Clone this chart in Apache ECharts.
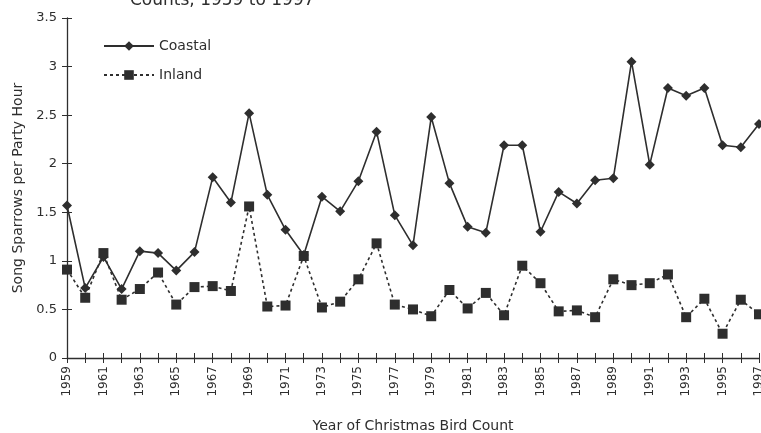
<!DOCTYPE html>
<html>
<head>
<meta charset="utf-8">
<script src="https://cdn.jsdelivr.net/npm/echarts@6/dist/echarts.min.js"></script>
<style>
  html, body { margin: 0; padding: 0; background: #fff; }
  #chart { width: 761px; height: 433px; }
</style>
</head>
<body>
<div id="chart"></div>
<script>
// years of the count
var years = [];
for (var y = 1959; y <= 1997; y++) { years.push(String(y)); }

// song sparrows per party hour
var coastal = [1.57, 0.72, 1.04, 0.71, 1.10, 1.08, 0.90, 1.09, 1.86, 1.60,
               2.52, 1.68, 1.32, 1.06, 1.66, 1.51, 1.82, 2.33, 1.47, 1.16,
               2.48, 1.80, 1.35, 1.29, 2.19, 2.19, 1.30, 1.71, 1.59, 1.83,
               1.85, 3.05, 1.99, 2.78, 2.70, 2.78, 2.19, 2.17, 2.41];
var inland = [0.91, 0.62, 1.08, 0.60, 0.71, 0.88, 0.55, 0.73, 0.74, 0.69,
              1.56, 0.53, 0.54, 1.05, 0.52, 0.58, 0.81, 1.18, 0.55, 0.50,
              0.43, 0.70, 0.51, 0.67, 0.44, 0.95, 0.77, 0.48, 0.49, 0.42,
              0.81, 0.75, 0.77, 0.86, 0.42, 0.61, 0.25, 0.60, 0.45];

var ink = '#2e2e2e';
var font = 'DejaVu Sans';

var myChart = echarts.init(document.getElementById('chart'));
var option = {
    backgroundColor: '#fff',
    animation: false,
    textStyle: { fontFamily: font, color: ink },
    graphic: [
        {
            type: 'text', left: 130, top: -8,
            style: { text: 'Counts, 1959 to 1997', fontSize: 17, fill: ink, fontFamily: font }
        }
    ],
    legend: {
        left: 103, top: 39,
        padding: 0,
        orient: 'vertical',
        itemWidth: 50, itemHeight: 12, itemGap: 15,
        textStyle: { fontSize: 14, color: ink, fontFamily: font },
        data: ['Coastal', 'Inland']
    },
    grid: { left: 67, right: 2, top: 18, bottom: 75, outerBoundsMode: 'none' },
    xAxis: [
        {
            type: 'category',
            data: years,
            boundaryGap: false,
            name: 'Year of Christmas Bird Count',
            nameLocation: 'middle',
            nameGap: 61,
            nameTextStyle: { fontSize: 14, color: ink },
            axisLine: { lineStyle: { color: ink, width: 1.3 } },
            axisTick: { interval: 0, length: 5, lineStyle: { color: ink } },
            axisLabel: { interval: 1, rotate: 90, fontSize: 12, color: ink, margin: 8 },
            splitLine: { show: false }
        },
        {
            type: 'category',
            data: years,
            boundaryGap: false,
            position: 'bottom',
            axisLine: { show: false },
            axisTick: { interval: 0, inside: true, length: 5, lineStyle: { color: ink } },
            axisLabel: { show: false },
            splitLine: { show: false }
        }
    ],
    yAxis: [
        {
            type: 'value',
            min: 0, max: 3.5, interval: 0.5,
            name: 'Song Sparrows per Party Hour',
            nameLocation: 'middle',
            nameGap: 42,
            nameTextStyle: { fontSize: 14, color: ink },
            axisLine: { show: true, lineStyle: { color: ink, width: 1.3 } },
            axisTick: { show: true, length: 5, lineStyle: { color: ink } },
            axisLabel: { fontSize: 13, color: ink, margin: 10 },
            splitLine: { show: false }
        },
        {
            type: 'value',
            min: 0, max: 3.5, interval: 0.5,
            position: 'left',
            axisLine: { show: false },
            axisTick: { show: true, inside: true, length: 5, lineStyle: { color: ink } },
            axisLabel: { show: false },
            splitLine: { show: false }
        }
    ],
    series: [
        {
            name: 'Coastal',
            type: 'line',
            data: coastal,
            symbol: 'diamond',
            symbolSize: 10,
            itemStyle: { color: ink },
            lineStyle: { color: ink, width: 1.6 }
        },
        {
            name: 'Inland',
            type: 'line',
            data: inland,
            symbol: 'rect',
            symbolSize: 10,
            itemStyle: { color: ink },
            lineStyle: { color: ink, width: 1.6, type: [3, 3] }
        }
    ]
};
myChart.setOption(option);
</script>
</body>
</html>
